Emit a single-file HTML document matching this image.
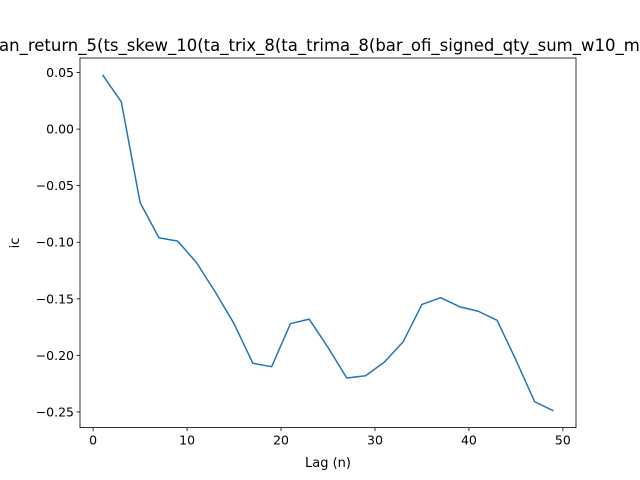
<!DOCTYPE html>
<html><head><meta charset="utf-8"><style>
html,body{margin:0;padding:0;background:#fff;}
svg{display:block;font-family:"DejaVu Sans","Liberation Sans",sans-serif;}
</style></head><body>
<svg id="chart" width="640" height="480" viewBox="0 0 640 480">
<rect width="640" height="480" fill="#fff"/>
<text x="-1" y="51" font-size="16.5" fill="#000">an_return_5(ts_skew_10(ta_trix_8(ta_trima_8(bar_ofi_signed_qty_sum_w10_m)))))</text>
<g id="xt"></g><g id="yt"></g>
<path id="line" fill="none" stroke="#1f77b4" stroke-width="1.5" stroke-linejoin="round"/>
<rect x="80" y="58" width="496" height="369.6" fill="none" stroke="#000" stroke-width="0.8"/>
<text x="328" y="467" font-size="13" text-anchor="middle">Lag (n)</text>
<text transform="translate(19,243) rotate(-90)" font-size="13" text-anchor="middle">ic</text>
</svg>
<script>
const lags=[1,3,5,7,9,11,13,15,17,19,21,23,25,27,29,31,33,35,37,39,41,43,45,47,49];
const icValues=[0.048,0.024,-0.065,-0.096,-0.099,-0.118,-0.144,-0.172,-0.207,-0.210,-0.172,-0.168,-0.193,-0.220,-0.218,-0.206,-0.188,-0.155,-0.149,-0.157,-0.161,-0.169,-0.204,-0.241,-0.249];
const xTicks=[0,10,20,30,40,50];
const yTicks=[0.05,0.00,-0.05,-0.10,-0.15,-0.20,-0.25];
const yTickLabels=["0.05","0.00","\u22120.05","\u22120.10","\u22120.15","\u22120.20","\u22120.25"];
const L=80,R=576,T=58,B=427.6;
const xmn=Math.min(...lags),xmx=Math.max(...lags),xp=(xmx-xmn)*0.05;
const ymn=Math.min(...icValues),ymx=Math.max(...icValues),yp=(ymx-ymn)*0.05;
const sx=v=>L+(v-(xmn-xp))/((xmx+xp)-(xmn-xp))*(R-L);
const sy=v=>T+((ymx+yp)-v)/((ymx+yp)-(ymn-yp))*(B-T);
const NS="http://www.w3.org/2000/svg";
document.getElementById('line').setAttribute('d',lags.map((x,i)=>(i?'L':'M')+sx(x).toFixed(2)+','+sy(icValues[i]).toFixed(2)).join(''));
const xt=document.getElementById('xt'),yt=document.getElementById('yt');
xTicks.forEach(v=>{const x=sx(v);
 const l=document.createElementNS(NS,'line');l.setAttribute('x1',x);l.setAttribute('x2',x);l.setAttribute('y1',B);l.setAttribute('y2',B+3.5);l.setAttribute('stroke','#000');l.setAttribute('stroke-width','0.8');
 
 
 xt.appendChild(l);
 const t=document.createElementNS(NS,'text');t.setAttribute('x',x);t.setAttribute('y',B+17);t.setAttribute('font-size','12.5');t.setAttribute('text-anchor','middle');t.textContent=v;
 
 
 xt.appendChild(t);});
yTicks.forEach((v,i)=>{const y=sy(v);
 const l=document.createElementNS(NS,'line');l.setAttribute('x1',L-3.5);l.setAttribute('x2',L);l.setAttribute('y1',y);l.setAttribute('y2',y);l.setAttribute('stroke','#000');l.setAttribute('stroke-width','0.8');
 
 
 yt.appendChild(l);
 const t=document.createElementNS(NS,'text');t.setAttribute('x',L-6);t.setAttribute('y',y+4.5);t.setAttribute('font-size','12.5');t.setAttribute('text-anchor','end');t.textContent=yTickLabels[i];
 
 
 yt.appendChild(t);});
</script>
</body></html>
